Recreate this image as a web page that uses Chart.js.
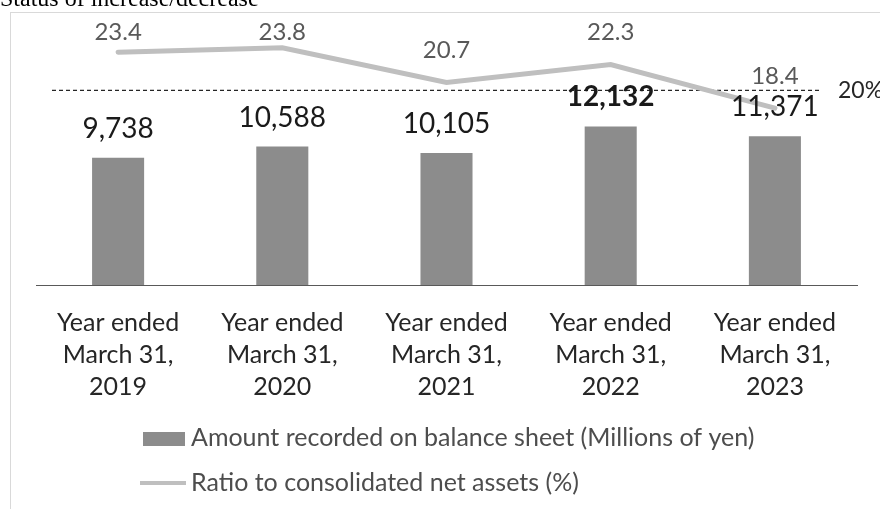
<!DOCTYPE html>
<html>
<head>
<meta charset="utf-8">
<script src="https://cdn.jsdelivr.net/npm/chart.js@4/dist/chart.umd.min.js"></script>
<style>
  html, body { margin: 0; padding: 0; background: #fff; }
  #wrap { position: relative; width: 880px; height: 509px; overflow: hidden; }
  #frame { position: absolute; left: 10px; top: 12px; width: 900px; height: 520px; border: 1px solid #d9d9d9; box-sizing: border-box; }
  #title { position: absolute; left: 0; top: -15px; font-family: "Liberation Serif", serif; font-size: 24px; color: #000; white-space: nowrap; }
  #chart { position: absolute; left: 0; top: 0; }
</style>
</head>
<body>
<div id="wrap">
  <div id="frame"></div>
  <canvas id="chart" width="880" height="509"></canvas>
  <div id="title">Status of increase/decrease</div>
</div>
<script>
// chart data
let years = [
    ['Year ended', 'March 31,', '2019'],
    ['Year ended', 'March 31,', '2020'],
    ['Year ended', 'March 31,', '2021'],
    ['Year ended', 'March 31,', '2022'],
    ['Year ended', 'March 31,', '2023']
];
let amounts = [9738, 10588, 10105, 12132, 11371];
let ratios = [23.4, 23.8, 20.7, 22.3, 18.4];
let thresholdValue = 20;
let thresholdLabel = '20%';
let amountLabel = 'Amount recorded on balance sheet (Millions of yen)';
let ratioLabel = 'Ratio to consolidated net assets (%)';

let barColor = '#8c8c8c';
let lineColor = '#bfbfbf';

// dashed 20% line, drawn under the datasets
let thresholdPlugin = {
    id: 'threshold',
    beforeDatasetsDraw(chart) {
        let ctx = chart.ctx;
        let area = chart.chartArea;
        let y = chart.scales.yRatio.getPixelForValue(thresholdValue);
        ctx.save();
        ctx.strokeStyle = '#262626';
        ctx.lineWidth = 1.2;
        ctx.setLineDash([4, 3]);
        ctx.beginPath();
        ctx.moveTo(area.left + 16, y);
        ctx.lineTo(area.right - 37, y);
        ctx.stroke();
        ctx.setLineDash([]);
        ctx.font = '23px Lato';
        ctx.fillStyle = '#262626';
        ctx.textAlign = 'left';
        ctx.textBaseline = 'middle';
        ctx.fillText(thresholdLabel, area.right - 19, y);
        ctx.restore();
    }
};

// value labels above bars and points (point labels kept inside the plot top, like Excel)
let valueLabelPlugin = {
    id: 'valueLabels',
    afterDatasetsDraw(chart, args, opts) {
        let ctx = chart.ctx;
        let bars = chart.getDatasetMeta(1).data;
        let points = chart.getDatasetMeta(0).data;
        let top = chart.chartArea.top;
        ctx.save();
        ctx.textAlign = 'center';
        ctx.textBaseline = 'middle';
        bars.forEach((el, i) => {
            ctx.font = (i === opts.boldIndex ? 'bold ' : '') + '28px Lato';
            ctx.fillStyle = '#1a1a1a';
            ctx.fillText(amounts[i].toLocaleString('en-US'), el.x, el.y - 29);
        });
        points.forEach((el, i) => {
            ctx.font = '24px Lato';
            ctx.fillStyle = '#595959';
            ctx.fillText(ratios[i].toFixed(1), el.x, Math.max(el.y - 32, top - 8));
        });
        ctx.restore();
    }
};

// two-row legend, left aligned like the original
let legendPlugin = {
    id: 'sideLegend',
    afterDraw(chart) {
        let ctx = chart.ctx;
        ctx.save();
        ctx.fillStyle = barColor;
        ctx.fillRect(143, 432, 42, 14);
        ctx.strokeStyle = lineColor;
        ctx.lineWidth = 4;
        ctx.beginPath();
        ctx.moveTo(140, 483);
        ctx.lineTo(186, 483);
        ctx.stroke();
        ctx.font = '25px Lato';
        ctx.fillStyle = '#4d4d4d';
        ctx.textAlign = 'left';
        ctx.textBaseline = 'middle';
        ctx.fillText(amountLabel, 191, 438);
        ctx.fillText(ratioLabel, 191, 483);
        ctx.restore();
    }
};

let mixedChart = new Chart(document.getElementById('chart'), {
    data: {
        labels: years,
        datasets: [{
            type: 'line',
            label: ratioLabel,
            data: ratios,
            yAxisID: 'yRatio',
            borderColor: lineColor,
            borderWidth: 5,
            borderCapStyle: 'round',
            pointRadius: 0,
            tension: 0,
            order: 0
        }, {
            type: 'bar',
            label: amountLabel,
            data: amounts,
            yAxisID: 'yAmount',
            backgroundColor: barColor,
            barPercentage: 0.317,
            categoryPercentage: 1,
            order: 1
        }]
    },
    options: {
        responsive: false,
        animation: false,
        layout: {
            padding: { left: 36, right: 23, top: 40, bottom: 104 }
        },
        scales: {
            x: {
                grid: { display: false, drawTicks: false },
                border: { display: true, color: '#595959', width: 1 },
                ticks: {
                    color: '#262626',
                    padding: 22,
                    maxRotation: 0,
                    font: { family: 'Lato', size: 25, lineHeight: 1.28 }
                },
                afterFit(scale) { scale.height = 120; }
            },
            yAmount: {
                display: false,
                min: 0,
                max: 18740
            },
            yRatio: {
                display: false,
                min: 2.61,
                max: 24.49
            }
        },
        plugins: {
            legend: { display: false },
            tooltip: { enabled: false },
            valueLabels: {
                boldIndex: 3
            }
        }
    },
    plugins: [thresholdPlugin, valueLabelPlugin, legendPlugin]
});
</script>
</body>
</html>
